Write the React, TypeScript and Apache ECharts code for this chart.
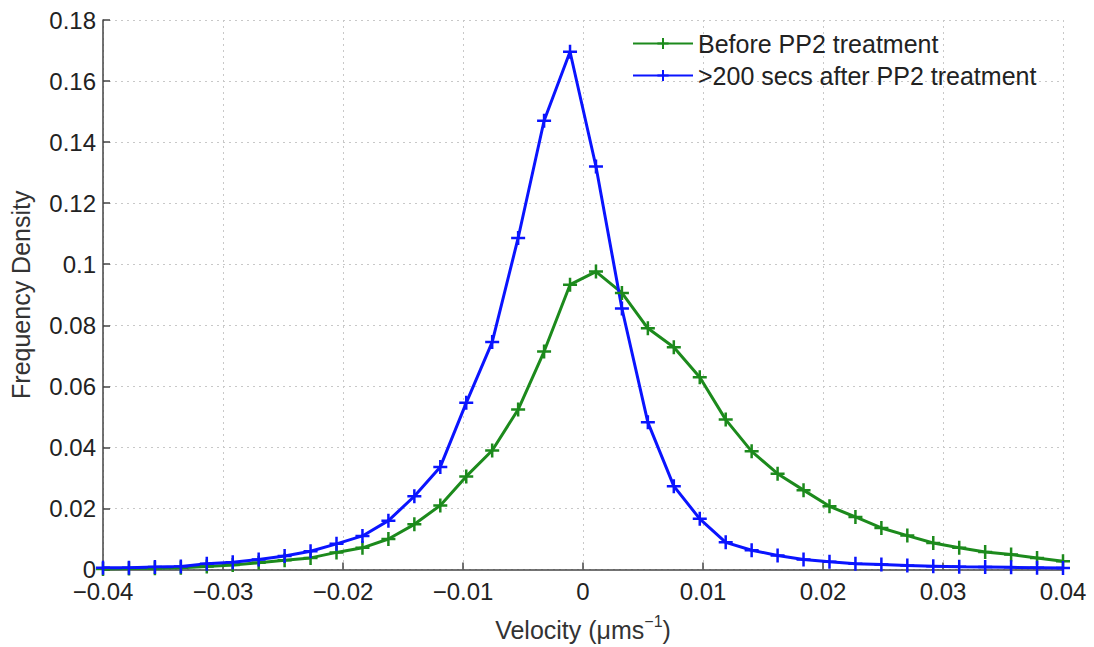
import React, { useEffect, useRef } from "react";
import * as echarts from "echarts";

const velocity = [
  -0.04, -0.037838, -0.035676, -0.033514, -0.031351, -0.029189, -0.027027, -0.024865,
  -0.022703, -0.020541, -0.018378, -0.016216, -0.014054, -0.011892, -0.00973, -0.007568,
  -0.005405, -0.003243, -0.001081, 0.001081, 0.003243, 0.005405, 0.007568, 0.00973,
  0.011892, 0.014054, 0.016216, 0.018378, 0.020541, 0.022703, 0.024865, 0.027027,
  0.029189, 0.031351, 0.033514, 0.035676, 0.037838, 0.04,
];

const beforePP2 = [
  0.0002, 0.0003, 0.0004, 0.0006, 0.001, 0.0015, 0.0022, 0.003,
  0.0038, 0.0056, 0.0071, 0.01, 0.0148, 0.021, 0.0305, 0.039,
  0.0524, 0.0714, 0.0933, 0.0976, 0.0906, 0.079, 0.0728, 0.063,
  0.0491, 0.0387, 0.0314, 0.026, 0.0207, 0.0172, 0.0136, 0.0111,
  0.0087, 0.0071, 0.0057, 0.0049, 0.0038, 0.0027,
];

const afterPP2 = [
  0.0006, 0.0006, 0.0008, 0.001, 0.0019, 0.0024, 0.0033, 0.0044,
  0.006, 0.0084, 0.011, 0.016, 0.024, 0.0336, 0.0546, 0.0745,
  0.1086, 0.147, 0.1696, 0.132, 0.0855, 0.0482, 0.0273, 0.0166,
  0.0089, 0.0063, 0.0046, 0.0033, 0.0025, 0.0019, 0.0016, 0.0013,
  0.0011, 0.0009, 0.0008, 0.0007, 0.0006, 0.0005,
];

const seriesNames = ["Before PP2 treatment", ">200 secs after PP2 treatment"];
const seriesColors = ["#1c8a1c", "#0a14ff"];

const FONT = "'Liberation Sans', Arial, Helvetica, sans-serif";
const PLUS = "path://M5,0L5,10M0,5L10,5";

const fmt = (v: number) => {
  if (Math.abs(v) < 1e-12) return "0";
  return String(+v.toFixed(2)).replace("-", "\u2212");
};

export default function App() {
  const ref = useRef<HTMLDivElement>(null);
  useEffect(() => {
    document.body.style.margin = "0";
    const chart = echarts.init(ref.current!, null, { renderer: "svg" });
    const mk = (name: string, data: number[], color: string) => ({
      name,
      type: "line",
      data: velocity.map((x, i) => [x, data[i]]),
      symbol: PLUS,
      symbolSize: 14,
      showAllSymbol: true,
      lineStyle: { color, width: 3 },
      itemStyle: { color, borderColor: color, borderWidth: 2.5 },
      emphasis: { disabled: true },
    });
    chart.setOption({
      animation: false,
      backgroundColor: "#ffffff",
      textStyle: { fontFamily: FONT },
      grid: { left: 103, right: 31, top: 20, bottom: 77, containLabel: false },
      legend: {
        orient: "vertical",
        left: 627,
        top: 26,
        itemWidth: 60,
        itemHeight: 14,
        itemGap: 7,
        textStyle: { fontSize: 25, color: "#222", fontFamily: FONT },
        data: seriesNames,
      },
      xAxis: {
        type: "value",
        min: -0.04,
        max: 0.04,
        interval: 0.01,
        name: "Velocity (\u03bcms{sup|\u22121})",
        nameLocation: "middle",
        nameGap: 44,
        nameTextStyle: {
          fontSize: 25,
          color: "#333",
          fontFamily: FONT,
          rich: { sup: { fontSize: 16, color: "#333", padding: [0, 0, 16, 0], fontFamily: FONT } },
        },
        axisLine: { show: true, onZero: false, lineStyle: { color: "#444", width: 1.5 } },
        axisTick: { show: true, inside: true, length: 7, lineStyle: { color: "#444", width: 1.5 } },
        axisLabel: { formatter: fmt, fontSize: 24, lineHeight: 20, color: "#222", margin: 12, fontFamily: FONT },
        splitLine: { show: true, lineStyle: { color: "#c8c8c8", type: [2, 4], width: 1 } },
      },
      yAxis: {
        type: "value",
        min: 0,
        max: 0.18,
        interval: 0.02,
        name: "Frequency Density",
        nameLocation: "middle",
        nameGap: 70,
        nameTextStyle: { fontSize: 25, color: "#333", fontFamily: FONT },
        axisLine: { show: true, onZero: false, lineStyle: { color: "#444", width: 1.5 } },
        axisTick: { show: true, inside: true, length: 7, lineStyle: { color: "#444", width: 1.5 } },
        axisLabel: { formatter: fmt, fontSize: 24, lineHeight: 18, color: "#222", margin: 7, fontFamily: FONT },
        splitLine: { show: true, lineStyle: { color: "#c8c8c8", type: [2, 4], width: 1 } },
      },
      series: [
        mk(seriesNames[0], beforePP2, seriesColors[0]),
        mk(seriesNames[1], afterPP2, seriesColors[1]),
      ],
    });
    return () => chart.dispose();
  }, []);
  return (
    <div
      ref={ref}
      style={{ position: "absolute", left: 0, top: 0, width: 1094, height: 647 }}
    />
  );
}
